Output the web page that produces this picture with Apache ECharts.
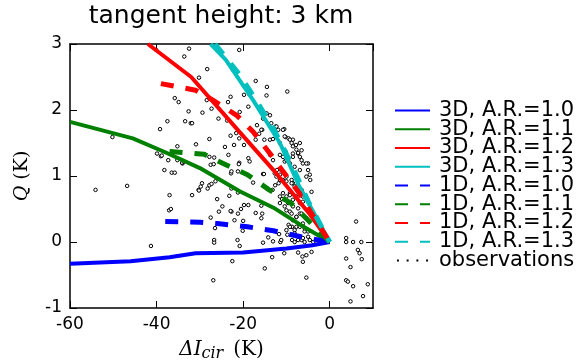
<!DOCTYPE html>
<html>
<head>
<meta charset="utf-8">
<script src="https://cdn.jsdelivr.net/npm/echarts@6/dist/echarts.min.js"></script>
<style>
  html, body { margin: 0; padding: 0; background: #fff; }
  #chart { width: 582px; height: 363px; }
</style>
</head>
<body>
<div id="chart"></div>
<script>
const xTicks = [-60, -40, -20, 0];
const yTicks = [-1, 0, 1, 2, 3];

// 3D model curves [dI, Q]
const ar10_3d = [[-60, -0.33], [-46, -0.29], [-37, -0.23], [-31, -0.17], [-20, -0.16], [-10, -0.1], [-4, -0.05], [0, 0]];
const ar11_3d = [[-60, 1.82], [-45.5, 1.57], [-38, 1.36], [-30, 1.12], [-20.8, 0.77], [-13, 0.52], [-7, 0.27], [0, 0]];
const ar12_3d = [[-42, 3], [-32, 2.5], [-21, 1.68], [-13, 1.09], [-4.6, 0.42], [0, 0]];
const ar13_3d = [[-27.5, 3], [-24, 2.76], [-17.7, 2.15], [-11.5, 1.5], [-7, 0.84], [0, 0]];

// 1D model curves
const ar10_1d = [[-38, 0.31], [-30, 0.3], [-26, 0.28], [-19, 0.23], [-13, 0.17], [-6, 0.07], [0, 0]];
const ar11_1d = [[-37, 1.37], [-29, 1.33], [-24, 1.17], [-19, 1.02], [-14, 0.79], [-9, 0.59], [-5, 0.33], [0, 0]];
const ar12_1d = [[-39, 2.4], [-31, 2.3], [-27, 2.15], [-21.5, 1.92], [-17.7, 1.67], [-13.8, 1.34], [-10.8, 1.07], [-7, 0.74], [-4.2, 0.43], [0, 0]];
const ar13_1d = [[-26.5, 3], [-21, 2.55], [-17.5, 2.2], [-13, 1.72], [-9, 1.2], [-5, 0.62], [0, 0]];

// observations
const obs = [
  [-32.5, 2.93], [-20.9, 2.91], [-33.6, 2.81], [-28.3, 2.62], [-30.2, 2.49], [-17.1, 2.44], [-14.5, 2.35], [-9.8, 2.28],
  [-35.8, 2.18], [-34.9, 2.12], [-22.9, 2.2], [-23.5, 2.12], [-28.4, 2.15], [-19.8, 2.23], [-18.6, 2.24], [-14.6, 2.22],
  [-27.3, 2.02], [-29.4, 1.96], [-32.6, 1.98], [-37.5, 1.83], [-33.4, 1.83], [-32.1, 1.8], [-39.2, 1.71], [-25.7, 1.87],
  [-23.7, 1.84], [-20.8, 1.97], [-18.8, 2.05], [-16.8, 1.77], [-15.6, 1.7], [-14.6, 1.95], [-13.8, 1.92], [-13.5, 1.8],
  [-12.5, 1.75], [-12.2, 1.7], [-10.5, 1.71], [-22.9, 1.61], [-21.6, 1.65], [-20.9, 1.57], [-27.8, 1.56], [-35.2, 1.45],
  [-50.2, 1.59], [-39.9, 1.34], [-39, 1.3], [-37.3, 1.24], [-34, 1.19], [-27.8, 1.29], [-26.7, 1.28], [-24.2, 1.44],
  [-23.4, 1.32], [-22.1, 1.47], [-20.9, 1.2], [-27.5, 1.17], [-26.8, 1.18], [-19.8, 1.47], [-18.8, 1.27], [-17.1, 1.55],
  [-16.3, 1.64], [-15.1, 1.55], [-13.8, 1.55], [-13.1, 1.56], [-11.5, 1.5], [-10.2, 1.59], [-9.5, 1.57], [-8.5, 1.55],
  [-7.8, 1.47], [-6.9, 1.5], [-6.5, 1.39], [-8.5, 1.34], [-10.2, 1.37], [-11.5, 1.32], [-13.8, 1.32], [-13.1, 1.24],
  [-10.4, 1.22], [-9.6, 1.24], [-8.5, 1.29], [-7.3, 1.34], [-6.2, 1.19], [-40.1, 2.91], [-31.8, 1.8], [-30.9, 1.48],
  [-38.8, 1.31], [-34.1, 1.2], [-38.2, 1.09], [-36.5, 1.05], [-35.8, 1.05],
  [-54.1, 0.79], [-46.8, 0.85], [-41.3, -0.06], [-37, 0.71], [-37.1, 0.48], [-36.7, 0.5], [-35.2, 1.24], [-33.8, 1.22],
  [-31.8, 0.71], [-30.3, 0.79], [-29.8, 0.84], [-29.5, 0.89], [-30.2, 0.78], [-28.2, 0.81], [-27.8, 0.86], [-27.3, 0.88],
  [-26.4, 0.92], [-27.5, 0.37], [-26.5, 0.21], [-26.7, 0.03], [-26.7, -0.01], [-26.9, -0.58], [-26, 0.65], [-24.8, 0.54],
  [-25.6, 0.46], [-22.8, 1.04], [-22.7, 1.07], [-21.2, 1.07], [-15.4, 1.03], [-23.2, 0.7], [-21.2, 0.75], [-22.7, 0.81],
  [-22.7, 0.46], [-22.9, 0.47], [-21.2, 0.43], [-22, 0.33], [-21, 1.18], [-20.5, 0.5], [-20, 0.32], [-20.1, 0.17],
  [-21.3, 0.03], [-20.8, -0.06], [-22.5, -0.29], [-19.8, 0.56], [-18.8, 0.56], [-17.7, 0.9], [-18.5, 1.22], [-17.1, 0.44],
  [-15.8, 0.36], [-15.6, 0.43], [-15.8, 0.55], [-15.2, 1.03], [-15, -0.4], [-14.2, 0.07], [-15.4, -0.01], [-13.3, -0.23],
  [-13.2, 0.79], [-12.6, 0.86], [-11.8, 0.89], [-11.5, 0.94], [-11.4, 0], [-10.5, -0.17], [-12.7, 1.04], [-12.2, 1.09],
  [-11, 0.65], [-10, 0.69], [-10, 0.48], [-9.5, 0.26], [-8.7, 0.23], [-8.1, 0.18], [-8.7, 0.03], [-8.1, 0],
  [-7.3, 0.03], [-6.5, 0.03], [-5.8, 0], [-8.5, 0.33], [-7.7, 0.38], [-6.9, 0.43], [-7.3, -0.16], [-6.3, -0.22],
  [-5.4, -0.2], [-6.2, -0.3], [-5.4, -0.54], [-4.2, -0.15], [-4.6, 0.03], [-3.8, 0], [-5, 1.19], [-4.5, 0.94],
  [-5.4, 0.99], [-4.2, 0.76], [-10, 0.99], [-8.8, 0.94], [-8.5, 0.89], [-7.7, 0.84], [-9.2, 0.74], [-8.5, 0.64],
  [-6.9, 0.59], [-6.2, 0.61], [-11.5, 0.59], [-10.4, 0.54], [-9.2, 0.46], [-7.7, 0.23], [-6.5, 0.26], [-5.8, 0.16],
  [-11.7, 0.12], [-9.8, 0.11],
  [-15.4, 1.87], [-15.8, 1.7], [-12.3, 1.75], [-11.9, 1.7], [-10.8, 1.7], [-10.4, 1.6], [-9.2, 1.55], [-8.8, 1.5],
  [-8.5, 1.45], [-7.7, 1.4], [-7.3, 1.35], [-6.9, 1.29], [-6.5, 1.24], [-5.4, 1.19], [-5, 1.09], [-4.6, 1.02],
  [-6.9, 1.09], [-8.1, 1.14], [-9.2, 1.19], [-10, 1.24], [-10.8, 1.29], [-11.2, 1.09], [-11.5, 1.02], [-12.3, 0.99],
  [-10.8, 0.94], [-10, 0.92], [-8.8, 0.89], [-8.1, 0.84], [-7.3, 0.81], [-6.5, 0.79], [-6.2, 0.69], [-7.7, 0.69],
  [-9.2, 0.71], [-10.8, 0.74], [-11.5, 0.69], [-10.4, 0.64], [-9.6, 0.59], [-8.5, 0.54], [-7.3, 0.51], [-6.5, 0.43],
  [-7.7, 0.38], [-8.8, 0.43], [-5.4, 0.36], [-6.2, 0.28], [-6.9, 0.23], [-5.8, 0.21], [-5, 0.16], [-9.2, 0.23],
  [-10, 0.18], [-8.1, 0.13], [-6.9, 0.08], [-6.2, 0.06], [-5, 0.08], [-11.2, 0.03], [-13.1, 0.01],
  [3.8, 0.06], [3.8, 0], [5.4, 0], [7.3, 0], [6.1, 0.31], [6.5, -0.12], [6.9, -0.17], [7.4, -0.26],
  [3.8, -0.25], [4.8, -0.38], [3.8, -0.58], [4.2, -0.6], [5.4, -0.67], [8.8, -0.64], [7.7, -0.82], [4.8, -0.9]
];

const font = 'DejaVu Sans';
const chart = echarts.init(document.getElementById('chart'));

const solid = (name, data, color) => ({
  name, type: 'line', data, symbol: 'none', smooth: false, clip: true,
  lineStyle: { color, width: 4, cap: 'butt' }, itemStyle: { color }
});
const dashed = (name, data, color) => ({
  name, type: 'line', data, symbol: 'none', smooth: false, clip: true,
  lineStyle: { color, width: 5, type: [13, 12], cap: 'butt' }, itemStyle: { color }
});

const axisCommon = {
  type: 'value',
  splitLine: { show: false },
  axisLine: { show: true, onZero: false, lineStyle: { color: '#000', width: 1.5 } },
  axisTick: { show: true, inside: true, length: 7, lineStyle: { color: '#000', width: 1 } },
};

// row of four dots, the extra moveTo points keep the box 36x10
const dotsIcon = 'path://M0,0M0,10M2,4h2v2h-2ZM12,4h2v2h-2ZM22,4h2v2h-2ZM32,4h2v2h-2ZM36,10';

chart.setOption({
  animation: false,
  backgroundColor: '#fff',
  textStyle: { fontFamily: font },
  grid: { left: 70, top: 44, width: 303, height: 264, containLabel: false, outerBoundsMode: 'none' },
  xAxis: [
    Object.assign({}, axisCommon, {
      position: 'bottom', min: -60, max: 10, interval: 20,
      axisLabel: { color: '#000', fontSize: 17, margin: 8, showMaxLabel: false, fontFamily: font },
      name: '{a|ΔI}{s|cir}{b|(K)}', nameLocation: 'middle', nameGap: 27,
      nameTextStyle: {
        rich: {
          a: { fontFamily: 'DejaVu Serif', fontStyle: 'italic', fontSize: 20, lineHeight: 22, color: '#000' },
          s: { fontFamily: 'DejaVu Serif', fontStyle: 'italic', fontSize: 16, lineHeight: 22, color: '#000', padding: [8, 0, 0, 0] },
          b: { fontFamily: 'DejaVu Serif', fontSize: 20, lineHeight: 22, color: '#000', padding: [0, 0, 0, 10] }
        }
      }
    }),
    Object.assign({}, axisCommon, {
      position: 'top', min: -60, max: 10, interval: 20,
      axisLabel: { show: false }
    })
  ],
  yAxis: [
    Object.assign({}, axisCommon, {
      position: 'left', min: -1, max: 3, interval: 1,
      axisLabel: { color: '#000', fontSize: 17, margin: 8, fontFamily: font },
      name: '{a|Q}{b| (K)}', nameLocation: 'middle', nameGap: 38, nameRotate: 90,
      nameTextStyle: {
        rich: {
          a: { fontFamily: 'DejaVu Serif', fontStyle: 'italic', fontSize: 19, color: '#000' },
          b: { fontFamily: 'DejaVu Serif', fontSize: 19, color: '#000' }
        }
      }
    }),
    Object.assign({}, axisCommon, {
      position: 'right', min: -1, max: 3, interval: 1,
      axisLabel: { show: false }
    })
  ],
  graphic: [{
    type: 'text', x: 221, y: 4,
    style: { text: 'tangent height: 3 km', font: '25px "DejaVu Sans"', fill: '#000', align: 'center', verticalAlign: 'top' }
  }],
  legend: {
    orient: 'vertical', left: 389, top: 95,
    itemWidth: 35, itemHeight: 10, itemGap: -2.25,
    itemStyle: { opacity: 0 },
    textStyle: { fontSize: 21, lineHeight: 18, color: '#000', fontFamily: font, padding: [0, 0, 0, 4] },
    data: [
      '3D, A.R.=1.0', '3D, A.R.=1.1', '3D, A.R.=1.2', '3D, A.R.=1.3',
      '1D, A.R.=1.0', '1D, A.R.=1.1', '1D, A.R.=1.2', '1D, A.R.=1.3',
      { name: 'observations', icon: dotsIcon, itemStyle: { color: '#000', borderWidth: 0, opacity: 1 } }
    ]
  },
  series: [
    solid('3D, A.R.=1.0', ar10_3d, '#0000ff'),
    solid('3D, A.R.=1.1', ar11_3d, '#008000'),
    solid('3D, A.R.=1.2', ar12_3d, '#ff0000'),
    solid('3D, A.R.=1.3', ar13_3d, '#00bfbf'),
    dashed('1D, A.R.=1.0', ar10_1d, '#0000ff'),
    dashed('1D, A.R.=1.1', ar11_1d, '#008000'),
    dashed('1D, A.R.=1.2', ar12_1d, '#ff0000'),
    dashed('1D, A.R.=1.3', ar13_1d, '#00bfbf'),
    {
      name: 'observations', type: 'scatter', data: obs, symbol: 'circle', symbolSize: 3.5,
      itemStyle: { color: '#fff', borderColor: '#000', borderWidth: 1, opacity: 1 }
    }
  ]
});
</script>
</body>
</html>
